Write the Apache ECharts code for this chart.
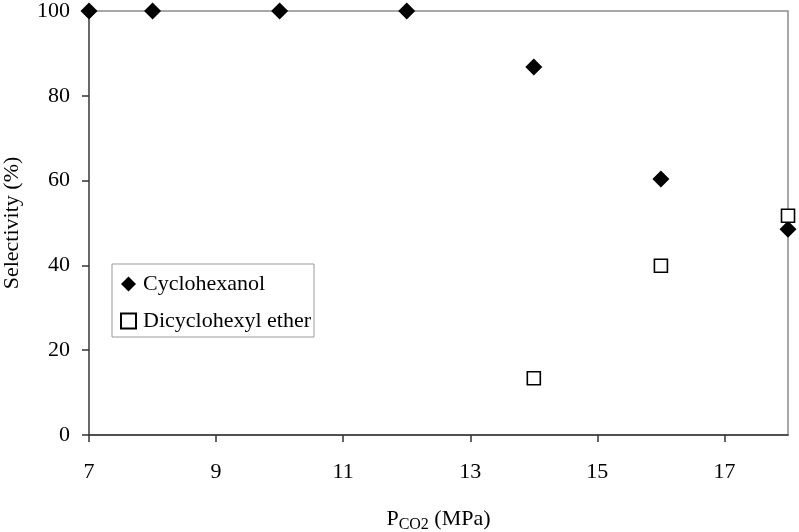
<!DOCTYPE html>
<html>
<head>
<meta charset="utf-8">
<script src="https://cdn.jsdelivr.net/npm/echarts@6/dist/echarts.min.js"></script>
<style>html,body{margin:0;padding:0;background:#fff}#c{width:799px;height:532px}</style>
</head>
<body>
<div id="c"></div>
<script>
var cyclohexanolX = [7, 8, 10, 12, 14, 16, 18];
var cyclohexanolY = [100, 100, 100, 100, 86.8, 60.4, 48.5];
var etherX = [14, 16, 18];
var etherY = [13.4, 39.9, 51.7];
var xTickLabels = [7, 9, 11, 13, 15, 17];
var yTickLabels = [0, 20, 40, 60, 80, 100];

function pairs(xs, ys) { return xs.map(function (x, i) { return [x, ys[i]]; }); }

var font = 'Liberation Serif';
var chart = echarts.init(document.getElementById('c'));
chart.setOption({
  animation: false,
  backgroundColor: '#fff',
  grid: { left: 89, right: 11, top: 11, bottom: 97, containLabel: false, outerBoundsMode: 'none', show: true, borderColor: '#8c8c8c', borderWidth: 1.5, backgroundColor: 'transparent' },
  legend: {
    orient: 'vertical', left: 112, top: 264,
    padding: [9, 3, 5, 8], itemGap: 15,
    borderColor: '#9a9a9a', borderWidth: 1, backgroundColor: '#fff',
    itemWidth: 15, itemHeight: 15,
    textStyle: { fontFamily: font, fontSize: 22, color: '#000', padding: [0, 0, 0, 2] },
    data: ['Cyclohexanol', 'Dicyclohexyl ether']
  },
  xAxis: {
    type: 'value', min: 7, max: 18,
    splitLine: { show: false },
    axisLine: { show: true, lineStyle: { color: '#333', width: 1.5 } },
    axisTick: { show: true, inside: false, length: 7, lineStyle: { color: '#333', width: 1.5 }, customValues: xTickLabels },
    axisLabel: { customValues: xTickLabels, margin: 26, fontFamily: font, fontSize: 22, color: '#000' },
    name: '{m|P}{s|CO2}{m| (MPa)}', nameLocation: 'middle', nameGap: 70,
    nameTextStyle: { rich: { m: { fontFamily: font, fontSize: 22, color: '#000' }, s: { fontFamily: font, fontSize: 16, color: '#000', verticalAlign: 'bottom', padding: [12, 0, 0, 0] } } }
  },
  yAxis: {
    type: 'value', min: 0, max: 100, interval: 20,
    splitLine: { show: false },
    axisLine: { show: true, lineStyle: { color: '#555', width: 1.5 } },
    axisTick: { show: true, inside: false, length: 7, lineStyle: { color: '#333', width: 1.5 } },
    axisLabel: { margin: 19, fontFamily: font, fontSize: 22, color: '#000' },
    name: 'Selectivity (%)', nameLocation: 'middle', nameGap: 66,
    nameTextStyle: { fontFamily: font, fontSize: 22, color: '#000' }
  },
  series: [
    {
      name: 'Cyclohexanol', type: 'scatter', symbol: 'diamond', symbolSize: [17, 17],
      itemStyle: { color: '#000', opacity: 1 },
      data: pairs(cyclohexanolX, cyclohexanolY), z: 5
    },
    {
      name: 'Dicyclohexyl ether', type: 'scatter', symbol: 'rect', symbolSize: [13, 13],
      itemStyle: { color: '#fff', borderColor: '#000', borderWidth: 1.6, opacity: 1 },
      data: pairs(etherX, etherY), z: 5
    }
  ]
});
</script>
</body>
</html>
